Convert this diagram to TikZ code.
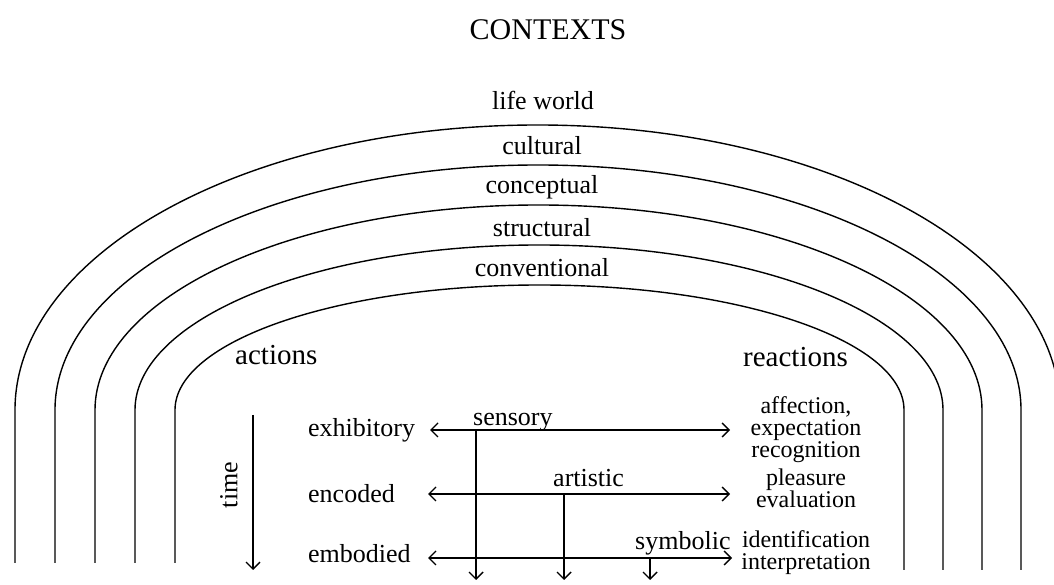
\documentclass[tikz,border=0pt]{standalone}
\usepackage{fontspec}
\setmainfont{Liberation Serif}
\usetikzlibrary{arrows.meta}
\begin{document}
\begin{tikzpicture}[x=1pt,y=1pt,
  arch/.style={line width=1.4pt},
  barb/.tip={Straight Barb[length=7pt,width=14pt,line width=1.4pt]},
  conn/.style={line width=1.4pt,-barb},
  conntwo/.style={line width=1.4pt,barb-barb},
  lbl/.style={inner sep=0pt,font=\fontsize{26}{22}\selectfont},
  rlbl/.style={inner sep=0pt,font=\fontsize{24}{22}\selectfont},
  big/.style={inner sep=0pt,font=\fontsize{29}{30}\selectfont},
  ttl/.style={inner sep=0pt,font=\fontsize{30}{32}\selectfont},
]
\useasboundingbox (0,0) rectangle (1054,585);
\begin{scope}
\clip (0,0) rectangle (1054,585);
\foreach \i in {0,...,4}{
  \pgfmathsetmacro\L{175-40*\i}
  \pgfmathsetmacro\R{904+39*\i}
  \pgfmathsetmacro\A{(\R-\L)/2}
  \pgfmathsetmacro\B{125+40*\i}
  \draw[arch] (\L,22) -- (\L,175) arc[start angle=180,end angle=0,x radius=\A,y radius=\B] -- (\R,15);
}
\end{scope}

% title and context labels
\node[ttl,anchor=base] (title) at (548,545) {CONTEXTS};
\node[lbl,anchor=base] (life) at (543,475) {life world};
\node[lbl,anchor=base] (cult) at (542,430) {cultural};
\node[lbl,anchor=base] (conc) at (542,391) {conceptual};
\node[lbl,anchor=base] (struc) at (542,348) {structural};
\node[lbl,anchor=base] (conv) at (542,308) {conventional};

\node[big,anchor=base west] (act) at (235,220) {actions};
\node[big,anchor=base west] (react) at (743,218) {reactions};

% time
\node[lbl,rotate=90] (time) at (229,100) {time};
\coordinate (t1) at (253,170);
\coordinate (t2) at (253,15);
\draw[conn] (t1) -- (t2);

% left labels
\node[lbl,anchor=base west] (exh) at (308,148) {exhibitory};
\node[lbl,anchor=base west] (enc) at (308,82) {encoded};
\node[lbl,anchor=base west] (emb) at (308,22) {embodied};

% mid labels
\node[lbl,anchor=base west] (sens) at (473,159) {sensory};
\node[lbl,anchor=base west] (art) at (553,98) {artistic};
\node[lbl,anchor=base west] (sym) at (635,35) {symbolic};

% right labels
\node[rlbl,anchor=base] (r1a) at (806,171) {affection,};
\node[rlbl,anchor=base] (r1b) at (806,149) {expectation};
\node[rlbl,anchor=base] (r1c) at (806,127) {recognition};
\node[rlbl,anchor=base] (r2a) at (806,99) {pleasure};
\node[rlbl,anchor=base] (r2b) at (806,77) {evaluation};
\node[rlbl,anchor=base] (r3a) at (806,37) {identification};
\node[rlbl,anchor=base] (r3b) at (806,15) {interpretation};

% horizontal arrows
\coordinate (h1l) at (430,155); \coordinate (h1r) at (730,155);
\coordinate (h2l) at (428,91);  \coordinate (h2r) at (730,91);
\coordinate (h3l) at (428,27);  \coordinate (h3r) at (732,27);
\draw[conntwo] (h1l) -- (h1r);
\draw[conntwo] (h2l) -- (h2r);
\draw[conntwo] (h3l) -- (h3r);

% vertical arrows
\coordinate (v1t) at (476,155); \coordinate (v1b) at (476,5);
\coordinate (v2t) at (564,91);  \coordinate (v2b) at (564,5);
\coordinate (v3t) at (650,27);  \coordinate (v3b) at (650,5);
\draw[conn] (v1t) -- (v1b);
\draw[conn] (v2t) -- (v2b);
\draw[conn] (v3t) -- (v3b);
\end{tikzpicture}
\end{document}
